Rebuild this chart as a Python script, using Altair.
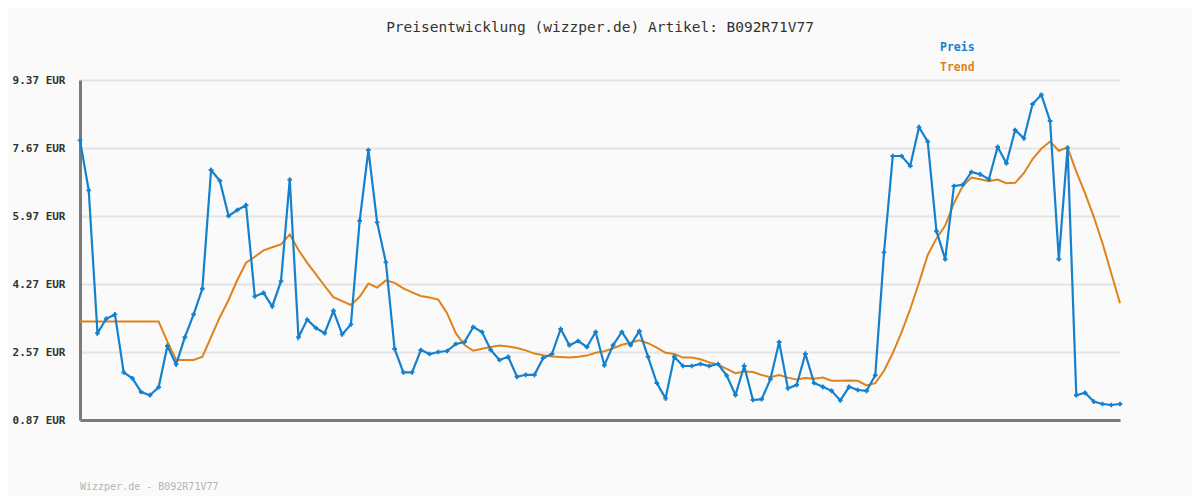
import altair as alt
import pandas as pd

title_text = "Preisentwicklung (wizzper.de) Artikel: B092R71V77"
footer_text = "Wizzper.de - B092R71V77"
series_names = ["Preis", "Trend"]
series_colors = ["#1580cc", "#e0821c"]
y_ticks = [0.87, 2.57, 4.27, 5.97, 7.67, 9.37]

preis = [
    7.86, 6.61, 3.04, 3.40, 3.51, 2.06, 1.91, 1.57, 1.49, 1.69,
    2.72, 2.26, 2.94, 3.51, 4.15, 7.12, 6.85, 5.97, 6.12, 6.24,
    3.96, 4.05, 3.71, 4.34, 6.88, 2.94, 3.38, 3.17, 3.04, 3.60,
    3.01, 3.26, 5.85, 7.62, 5.81, 4.81, 2.645, 2.06, 2.06, 2.62,
    2.52, 2.57, 2.595, 2.77, 2.82, 3.195, 3.07, 2.62, 2.37, 2.45,
    1.95, 2.00, 2.00, 2.42, 2.52, 3.145, 2.74, 2.845, 2.695, 3.07,
    2.24, 2.74, 3.07, 2.74, 3.095, 2.45, 1.795, 1.41, 2.45, 2.22,
    2.22, 2.27, 2.22, 2.27, 1.98, 1.495, 2.22, 1.37, 1.39, 1.89,
    2.82, 1.66, 1.745, 2.52, 1.795, 1.70, 1.60, 1.36, 1.70, 1.62,
    1.60, 1.99, 5.06, 7.47, 7.47, 7.22, 8.19, 7.83, 5.59, 4.89,
    6.72, 6.75, 7.07, 7.01, 6.89, 7.695, 7.29, 8.12, 7.91, 8.77,
    9.00, 8.345, 4.89, 7.68, 1.49, 1.55, 1.33, 1.27, 1.245, 1.27,
]

trend = [
    3.33, 3.33, 3.33, 3.33, 3.33, 3.33, 3.33, 3.33, 3.33, 3.33,
    2.83, 2.37, 2.37, 2.37, 2.45, 2.945, 3.44, 3.87, 4.37, 4.80,
    4.95, 5.11, 5.19, 5.26, 5.51, 5.12, 4.80, 4.51, 4.22, 3.94,
    3.84, 3.745, 3.95, 4.28, 4.18, 4.36, 4.30, 4.16, 4.06, 3.97,
    3.93, 3.88, 3.54, 3.04, 2.745, 2.60, 2.65, 2.695, 2.73, 2.71,
    2.67, 2.61, 2.53, 2.49, 2.46, 2.445, 2.43, 2.45, 2.48, 2.55,
    2.59, 2.66, 2.75, 2.80, 2.86, 2.79, 2.68, 2.55, 2.52, 2.43,
    2.43, 2.39, 2.31, 2.26, 2.15, 2.04, 2.08, 2.07, 1.995, 1.94,
    1.995, 1.93, 1.88, 1.92, 1.90, 1.93, 1.85, 1.85, 1.86, 1.85,
    1.735, 1.79, 2.10, 2.54, 3.06, 3.645, 4.30, 4.995, 5.41, 5.73,
    6.29, 6.72, 6.93, 6.89, 6.84, 6.88, 6.79, 6.80, 7.04, 7.395,
    7.65, 7.83, 7.60, 7.68, 7.08, 6.54, 5.95, 5.29, 4.54, 3.79,
]

idx = list(range(len(preis)))
df = pd.DataFrame({"i": idx, "preis": preis, "trend": trend})

W, H = 1040, 340
mono = "DejaVu Sans Mono"

x_enc = alt.X("i:Q", scale=alt.Scale(domain=[0, len(preis) - 1], nice=False, zero=False),
              axis=alt.Axis(labels=False, ticks=False, grid=False, title=None,
                            domainColor="#7a7a7a", domainWidth=3))
y_scale = alt.Scale(domain=[y_ticks[0], y_ticks[-1]], nice=False, zero=False)
y_axis = alt.Axis(values=y_ticks, format=".2f", labelExpr="datum.label + ' EUR'",
                  title=None, ticks=False, grid=True, gridColor="#e4e4e4", gridWidth=2,
                  domainColor="#7a7a7a", domainWidth=3, labelFont=mono, labelFontSize=11,
                  labelFontWeight="bold", labelColor="#333333", labelPadding=15)

base = alt.Chart(df)

trend_line = base.mark_line(color=series_colors[1], strokeWidth=2).encode(
    x=x_enc, y=alt.Y("trend:Q", scale=y_scale, axis=y_axis))
preis_line = base.mark_line(color=series_colors[0], strokeWidth=2.2).encode(
    x=x_enc, y=alt.Y("preis:Q", scale=y_scale, axis=y_axis))
preis_pts = base.mark_point(shape="cross", filled=True, size=22, color=series_colors[0],
                            opacity=1).encode(
    x=x_enc, y=alt.Y("preis:Q", scale=y_scale, axis=y_axis))

title_df = pd.DataFrame({"t": [title_text]})
title_mark = alt.Chart(title_df).mark_text(font=mono, fontSize=14.5, color="#333333",
                                           align="center", baseline="middle").encode(
    x=alt.value(W / 2), y=alt.value(-52), text="t:N")

legend_layers = []
for k, (name, col) in enumerate(zip(series_names, series_colors)):
    ldf = pd.DataFrame({"name": [name]})
    legend_layers.append(
        alt.Chart(ldf).mark_text(font=mono, fontSize=11.5, fontWeight="bold", color=col,
                                 align="left", baseline="middle").encode(
            x=alt.value(860), y=alt.value(-32 + 20 * k), text="name:N"))

footer_df = pd.DataFrame({"t": [footer_text]})
footer_mark = alt.Chart(footer_df).mark_text(font=mono, fontSize=10, color="#b4b4b4",
                                             align="left", baseline="middle").encode(
    x=alt.value(0), y=alt.value(407), text="t:N")

chart = alt.layer(trend_line, preis_line, preis_pts, title_mark, *legend_layers, footer_mark).properties(
    width=W, height=H,
    autosize=alt.AutoSizeParams(type="none"),
    padding={"left": 72, "top": 72, "right": 72, "bottom": 76},
    background="#fafafa",
).configure_view(stroke=None)

chart.save("out.html", embed_options={"renderer": "svg", "actions": False})
